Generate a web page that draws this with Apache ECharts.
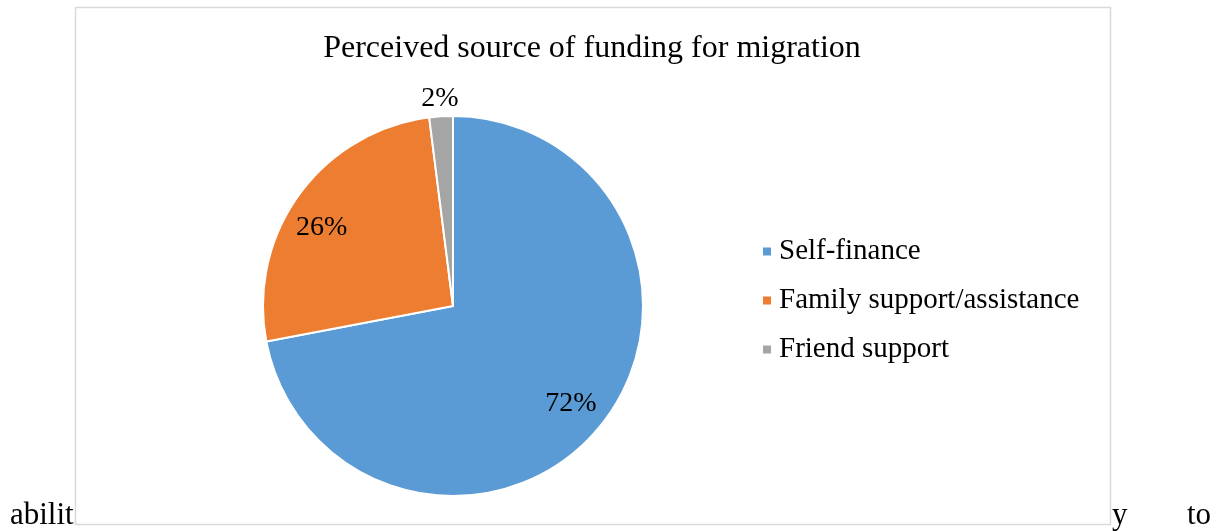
<!DOCTYPE html>
<html>
<head>
<meta charset="utf-8">
<style>
  html, body { margin: 0; padding: 0; background: #ffffff; }
  #chart { width: 1220px; height: 531px; }
</style>
<script src="https://cdn.jsdelivr.net/npm/echarts@6/dist/echarts.min.js"></script>
</head>
<body>
<div id="chart"></div>
<script>
// Sources of funding and their shares (percent)
const categories = ['Self-finance', 'Family support/assistance', 'Friend support'];
const shares = [72, 26, 2];
const colors = ['#5B9BD5', '#ED7D31', '#A5A5A5'];
const titleText = 'Perceived source of funding for migration';

const FONT = '"Liberation Serif", "Times New Roman", serif';
const center = [453, 306];
const R = 190;

const mainData = categories.map((name, i) => ({
  name, value: shares[i], itemStyle: { color: colors[i] }
}));

// Transparent copies of the pie, used only to place the percentage labels
const ghostData = (shown) => categories.map((name, i) => ({
  name, value: shares[i],
  itemStyle: { color: 'rgba(0,0,0,0)', borderWidth: 0 },
  label: { show: i === shown }
}));

const labelStyle = {
  position: 'inside', formatter: '{c}%',
  fontFamily: FONT, fontSize: 28, color: '#000000'
};

function ghostSeries(shown, radius, startAngle) {
  return {
    type: 'pie', center, radius,
    startAngle, clockwise: true, silent: true,
    avoidLabelOverlap: false,
    label: labelStyle,
    labelLine: { show: false },
    emphasis: { disabled: true },
    data: ghostData(shown)
  };
}

const chart = echarts.init(document.getElementById('chart'), null, { renderer: 'canvas' });
chart.setOption({
  animation: false,
  backgroundColor: '#ffffff',
  title: {
    text: titleText,
    left: 592, top: 33, textAlign: 'center', padding: 0,
    textStyle: { fontFamily: FONT, fontSize: 32, fontWeight: 'normal', color: '#000000' }
  },
  legend: {
    orient: 'vertical',
    left: 761, top: 237,
    padding: 0,
    icon: 'rect', itemWidth: 10, itemHeight: 10, itemGap: 20,
    data: categories,
    textStyle: { fontFamily: FONT, fontSize: 29, color: '#000000', padding: [0, 0, 0, 2] },
    selectedMode: false
  },
  graphic: [
    { type: 'text', left: 10, top: 500, silent: true,
      style: { text: 'abilit', font: '31px ' + FONT, fill: '#000000' } },
    { type: 'rect', silent: true, z: 1,
      shape: { x: 75.5, y: 7.5, width: 1035, height: 517 },
      style: { fill: 'rgba(0,0,0,0)', stroke: '#d9d9d9', lineWidth: 1.5 } },
    { type: 'text', left: 1112, top: 500, silent: true,
      style: { text: 'y', font: '31px ' + FONT, fill: '#000000' } },
    { type: 'text', left: 1187, top: 500, silent: true,
      style: { text: 'to', font: '31px ' + FONT, fill: '#000000' } }
  ],
  series: [
    {
      type: 'pie', center, radius: [0, R],
      startAngle: 90, clockwise: true, silent: true,
      avoidLabelOverlap: false,
      itemStyle: { borderColor: '#ffffff', borderWidth: 2 },
      label: { show: false }, labelLine: { show: false },
      emphasis: { disabled: true },
      data: mainData
    },
    ghostSeries(0, [0.58 * R, R], 90),
    ghostSeries(1, [0.58 * R, R], 95),
    ghostSeries(2, [R + 2, R + 27], 90)
  ]
});
</script>
</body>
</html>
